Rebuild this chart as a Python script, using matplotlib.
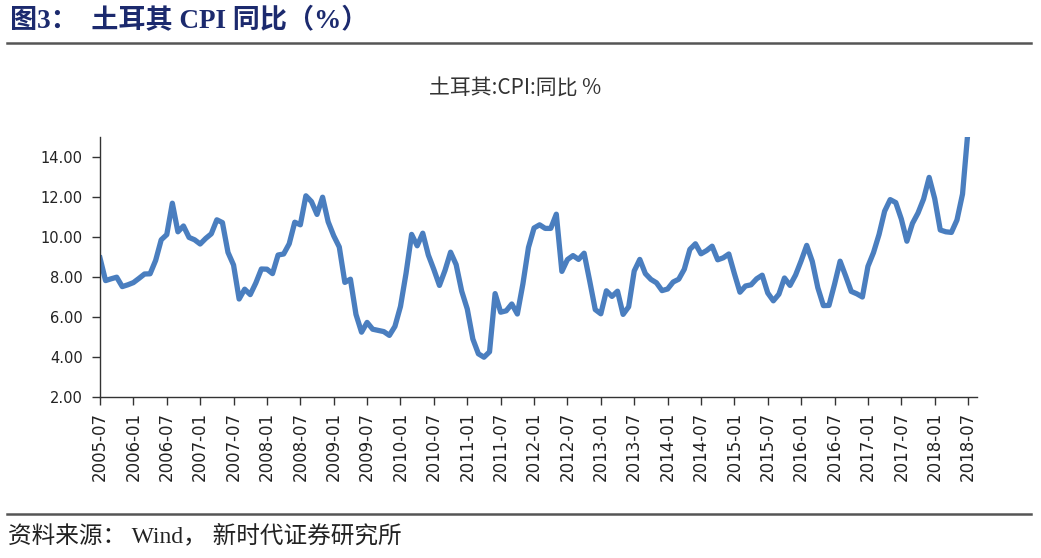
import matplotlib
matplotlib.use("Agg")
import matplotlib.pyplot as plt
import pandas as pd

# month labels as shown on the chart, one per point
months = pd.period_range("2005-07", periods=157, freq="M").strftime("%Y-%m").tolist()

cpi_yoy = [
    8.95, 7.82, 7.91, 7.99, 7.52, 7.61, 7.72,
    7.93, 8.15, 8.16, 8.83, 9.86, 10.12, 11.69, 10.26, 10.55, 9.98, 9.86, 9.65,
    9.93, 10.16, 10.86, 10.72, 9.23, 8.60, 6.90, 7.39, 7.12, 7.70, 8.40, 8.39,
    8.17, 9.10, 9.15, 9.66, 10.74, 10.61, 12.06, 11.77, 11.13, 11.99, 10.76, 10.06,
    9.50, 7.73, 7.89, 6.13, 5.24, 5.73, 5.39, 5.33, 5.27, 5.08, 5.53, 6.53,
    8.19, 10.13, 9.56, 10.19, 9.10, 8.37, 7.58, 8.33, 9.24, 8.62, 7.29, 6.40,
    4.90, 4.16, 3.99, 4.26, 7.17, 6.24, 6.31, 6.65, 6.15, 7.66, 9.48, 10.45,
    10.61, 10.43, 10.43, 11.14, 8.28, 8.87, 9.07, 8.88, 9.19, 7.80, 6.37, 6.16,
    7.31, 7.03, 7.29, 6.13, 6.51, 8.30, 8.88, 8.17, 7.88, 7.71, 7.32, 7.40,
    7.75, 7.89, 8.39, 9.38, 9.66, 9.16, 9.32, 9.54, 8.86, 8.96, 9.15, 8.17,
    7.24, 7.55, 7.61, 7.91, 8.09, 7.20, 6.81, 7.14, 7.95, 7.58, 8.10, 8.81,
    9.58, 8.78, 7.46, 6.57, 6.58, 7.64, 8.79, 8.05, 7.28, 7.16, 7.00, 8.53,
    9.22, 10.13, 11.29, 11.87, 11.72, 10.90, 9.79, 10.68, 11.20, 11.90, 12.98, 11.92,
    10.35, 10.26, 10.23, 10.85, 12.15, 15.39,
]

y_ticks = [2, 4, 6, 8, 10, 12, 14]

cjk = ["Noto Sans CJK SC", "DejaVu Sans"]
serif_cjk = ["Liberation Serif", "Noto Sans CJK SC"]

fig = plt.figure(figsize=(10.41, 5.58), dpi=100)
ax = fig.add_axes([100 / 1041, 1 - 397 / 558, 877 / 1041, 260 / 558])

x = list(range(len(cpi_yoy)))
ax.plot(x, cpi_yoy, color="#4a7ebf", lw=3.8, solid_joinstyle="round")

ax.set_ylim(2, 15)
ax.set_xlim(0, len(cpi_yoy) + 0.6)
ax.set_yticks(y_ticks)
ax.set_yticklabels([f"{v:.2f}" for v in y_ticks], fontsize=10.5, color="#222222")
tick_pos = x[::6]
ax.set_xticks(tick_pos)
ax.set_xticklabels([months[i] for i in tick_pos], rotation=90, fontsize=12, color="#222222")
ax.tick_params(direction="out", length=5.5, width=1, color="#333333")
ax.tick_params(axis="y", pad=7)
ax.tick_params(axis="x", pad=5)

for side in ["top", "right"]:
    ax.spines[side].set_visible(False)
for side in ["left", "bottom"]:
    ax.spines[side].set_color("#333333")
    ax.spines[side].set_linewidth(1)

# chart title, centred on the page rather than the axes
fig.text(515 / 1041, 1 - 89 / 558, "土耳其:CPI:同比 %", family=cjk, fontsize=15,
         color="#333333", ha="center", va="center")

# header and footer
fig.text(10 / 1041, 1 - 21 / 558, "图3：  土耳其 CPI 同比（%）", family=serif_cjk,
         fontsize=19.5, fontweight="bold", color="#1c2a6e", va="center", ha="left")
fig.add_artist(plt.Line2D([7 / 1041, 1031 / 1041], [1 - 43 / 558, 1 - 43 / 558],
                          color="#555555", lw=1.8))
fig.add_artist(plt.Line2D([7 / 1041, 1031 / 1041], [1 - 514 / 558, 1 - 514 / 558],
                          color="#555555", lw=1.8))
fig.text(8 / 1041, 1 - 536 / 558, "资料来源： Wind， 新时代证券研究所", family=serif_cjk,
         fontsize=17, color="#222222", va="center", ha="left")

fig.savefig("out.png", dpi=100)
